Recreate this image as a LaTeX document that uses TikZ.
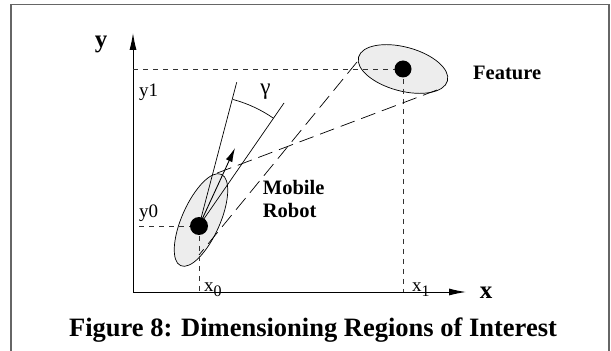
\documentclass[tikz,border=0pt]{standalone}
\usepackage{fontspec}
\setmainfont{Liberation Serif}
\usetikzlibrary{positioning,shapes.geometric,arrows.meta}

\begin{document}
\begin{tikzpicture}[x=1pt,y=1pt,
		region/.style={ellipse, draw=black, fill=black!7, line width=0.7pt, inner sep=0pt},
		spot/.style={circle, fill=black, inner sep=0pt},
		guide/.style={dash pattern=on 5pt off 5pt, line width=0.6pt, black!80},
		sight/.style={dash pattern=on 15pt off 7pt, line width=0.7pt},
		axis/.style={line width=0.9pt, -{Latex[length=17pt,width=7pt]}},
		lbl/.style={font=\fontsize{19}{20}\selectfont, inner sep=0pt},
		blbl/.style={font=\fontsize{20.5}{22.7}\selectfont\bfseries, inner sep=0pt, align=left},
	]
	\useasboundingbox (0,0) rectangle (611,351);
	\draw[black!60, line width=1.5pt] (11,-2) -- (11,346.5) -- (609,346.5) -- (609,-2);

	%Nodes
	\coordinate (O)    at (133,59);
	\coordinate (ytip) at (133,318);
	\coordinate (xtip) at (466,59);
	\coordinate (R)    at (199,125);
	\coordinate (F)    at (403,282);
	\coordinate (head) at (235,203);
	\coordinate (fovl) at (236.7,268.7);
	\coordinate (fovr) at (284,248);
	\coordinate (fa)   at (357,289);
	\coordinate (fb)   at (437,261);
	\coordinate (ra)   at (199,96);
	\coordinate (rb)   at (212,176);

	\node[region, minimum width=100pt, minimum height=38pt, rotate=66] (robotregion) at (201,131) {};
	\node[region, minimum width=92pt, minimum height=44pt, rotate=-15] (featregion) at (403,282) {};

	\node[blbl, font=\fontsize{25}{25}\selectfont\bfseries] (ylabel) at (101,307) {y};
	\node[blbl, font=\fontsize{25}{25}\selectfont\bfseries] (xlabel) at (486,58) {x};
	\node[lbl, anchor=base west] (yone)  at (139,254) {y1};
	\node[lbl, anchor=base west] (yzero) at (139,133) {y0};
	\node[lbl, anchor=base west] (xzero) at (204,59.5) {x\raisebox{-5pt}{\fontsize{16}{16}\selectfont 0}};
	\node[lbl, anchor=base west] (xone)  at (412,59.5) {x\raisebox{-5pt}{\fontsize{16}{16}\selectfont 1}};
	\node[lbl, font=\fontsize{23}{23}\selectfont] (gamma) at (265.5,259) {γ};
	\node[blbl, anchor=base west] (feature) at (473,271.7) {Feature};
	\node[blbl, anchor=base west] (mobile)  at (262.7,133.7) {Mobile\\Robot};
	\node[font=\fontsize{26.5}{30}\selectfont\bfseries, anchor=base] (caption) at (313,14.3) {Figure 8: Dimensioning Regions of Interest};

	%Lines
	\draw[axis] (O) -- (ytip);
	\draw[axis] (O) -- (xtip);
	\draw[guide] (O |- F) -- (F);
	\draw[guide] (F) -- (F |- O);
	\draw[guide] (139,125) -- (R);
	\draw[guide] (R) -- (R |- O);
	\draw[sight] (fa) -- (ra);
	\draw[sight] (fb) -- (rb);
	\draw[line width=0.7pt] (R) -- (fovl);
	\draw[line width=0.7pt] (R) -- (fovr);
	\draw[line width=0.7pt] (R) ++(75:131) arc[start angle=75, end angle=55.5, radius=131];
	\draw[line width=0.9pt, -{Latex[length=14pt,width=7pt]}] (R) -- (head);

	\node[spot, minimum size=18pt] (robot)   at (R) {};
	\node[spot, minimum size=17pt] (featdot) at (F) {};

\end{tikzpicture}
\end{document}
